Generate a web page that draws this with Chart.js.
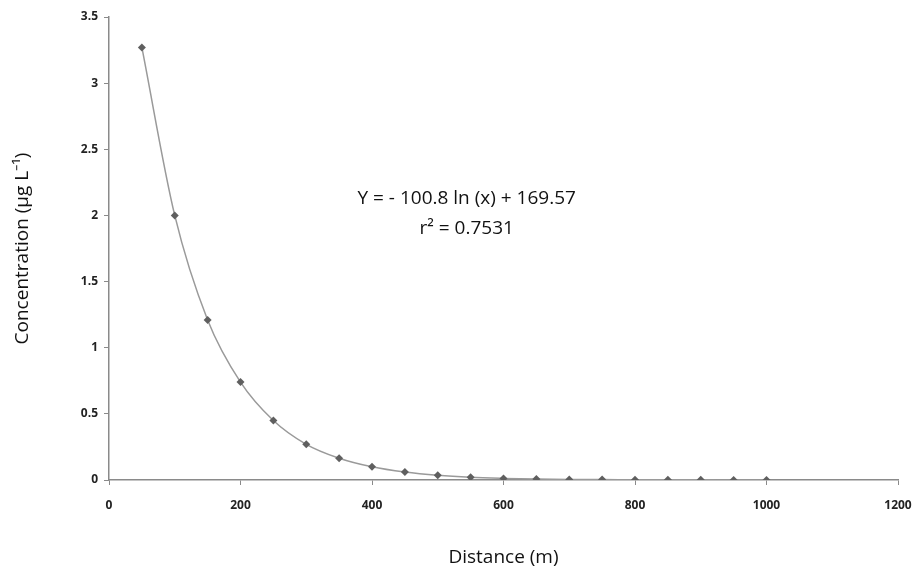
<!DOCTYPE html>
<html>
<head>
<meta charset="utf-8">
<script src="https://cdn.jsdelivr.net/npm/chart.js@4/dist/chart.umd.min.js"></script>
<style>
  html, body { margin: 0; padding: 0; background: #fff; }
  #wrap { width: 919px; height: 570px; }
</style>
</head>
<body>
<div id="wrap"><canvas id="chartConc"></canvas></div>
<script>
  // distance (m) and concentration (µg L-1)
  const distance = [50, 100, 150, 200, 250, 300, 350, 400, 450, 500,
                    550, 600, 650, 700, 750, 800, 850, 900, 950, 1000];
  const concentration = [3.27, 2.0, 1.21, 0.74, 0.45, 0.27, 0.165, 0.10, 0.06, 0.035,
                         0.02, 0.012, 0.007, 0.004, 0.003, 0.002, 0.001, 0.001, 0.0005, 0.0005];
  const equationLines = ['Y = - 100.8 ln (x) + 169.57', 'r² = 0.7531'];

  const tickFont = { family: 'Open Sans', size: 12, weight: 'bold' };
  const titleFont = { family: 'Open Sans', size: 19 };

  // draws the fitted equation text in the middle of the plot
  const equationPlugin = {
    id: 'equation',
    afterDraw(chart) {
      const ctx = chart.ctx;
      const x = chart.scales.x.getPixelForValue(544);
      ctx.save();
      ctx.fillStyle = '#111';
      ctx.font = '19px "Open Sans"';
      ctx.textAlign = 'center';
      ctx.textBaseline = 'middle';
      ctx.fillText(equationLines[0], x, chart.scales.y.getPixelForValue(2.13));
      ctx.fillText(equationLines[1], x, chart.scales.y.getPixelForValue(1.9));
      ctx.restore();
    }
  };

  const ctx = document.getElementById('chartConc').getContext('2d');
  const chartConc = new Chart(ctx, {
    type: 'line',
    data: {
      datasets: [{
        label: 'Concentration',
        data: distance.map((d, i) => ({ x: d, y: concentration[i] })),
        borderColor: '#9a9a9a',
        borderWidth: 1.5,
        cubicInterpolationMode: 'monotone',
        pointStyle: 'rectRot',
        pointRadius: 4,
        pointBackgroundColor: '#5f5f5f',
        pointBorderColor: '#5f5f5f',
        pointBorderWidth: 0
      }]
    },
    options: {
      responsive: true,
      maintainAspectRatio: false,
      animation: false,
      layout: { padding: { left: 0, right: 21, top: 17, bottom: 0 } },
      plugins: { legend: { display: false }, tooltip: { enabled: false } },
      scales: {
        x: {
          type: 'linear',
          min: 0,
          max: 1200,
          ticks: { stepSize: 200, color: '#222', font: tickFont, padding: 13, callback: v => String(v) },
          grid: { drawOnChartArea: false, tickLength: 5, color: '#8a8a8a' },
          border: { color: '#8a8a8a', width: 1.5 },
          title: { display: true, text: 'Distance (m)', color: '#111', font: titleFont, padding: { top: 0, bottom: 1 } },
          afterFit(scale) {
            scale.height = 90;
            scale.paddingRight = 0; // the 1200 label fits inside the right margin
          }
        },
        y: {
          min: 0,
          max: 3.5,
          ticks: { stepSize: 0.5, color: '#222', font: tickFont, padding: 6, callback: v => String(v) },
          grid: { drawOnChartArea: false, tickLength: 5, color: '#8a8a8a' },
          border: { color: '#8a8a8a', width: 1.5 },
          title: { display: true, text: 'Concentration (µg L⁻¹)', color: '#111', font: titleFont, padding: { top: 11, bottom: 0 } },
          afterFit(scale) { scale.width = 109; }
        }
      }
    },
    plugins: [equationPlugin]
  });
</script>
</body>
</html>
